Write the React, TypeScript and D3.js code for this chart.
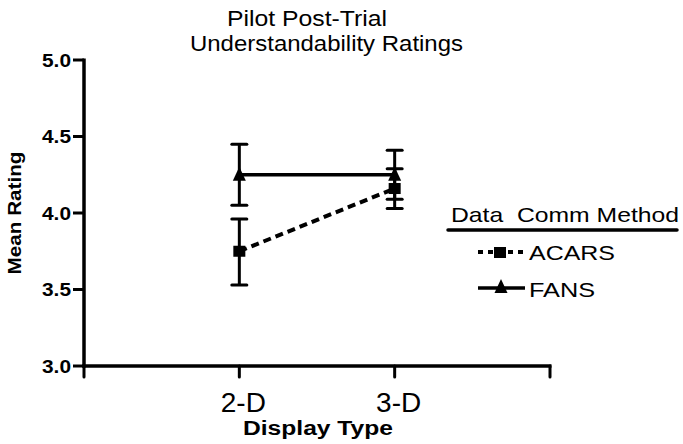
import React from "react";
import * as d3 from "d3";

const categories = ["2-D", "3-D"];
const acarsMean = [3.75, 4.16];
const acarsLow = [3.53, 4.03];
const acarsHigh = [3.96, 4.29];
const fansMean = [4.25, 4.25];
const fansLow = [4.05, 4.09];
const fansHigh = [4.45, 4.41];
const yTicks = [3.0, 3.5, 4.0, 4.5, 5.0];

const W = 683, H = 444;
const FONT = "Liberation Sans, Arial, sans-serif";

export default function App() {
  const x = d3.scaleLinear().domain([0, 3]).range([84, 550]);
  const y = d3.scaleLinear().domain([3, 5]).range([366, 60]);
  const line = d3.line<number>().x((_, i) => x(i + 1)).y((d) => y(d));

  const errBars = (means: number[], lo: number[], hi: number[], key: string) =>
    means.map((_, i) => {
      const cx = x(i + 1);
      return (
        <g key={key + i} stroke="#000" strokeWidth={3}>
          <line x1={cx} x2={cx} y1={y(lo[i])} y2={y(hi[i])} />
          <line x1={cx - 7.5} x2={cx + 7.5} y1={y(lo[i])} y2={y(lo[i])} strokeLinecap="round" />
          <line x1={cx - 7.5} x2={cx + 7.5} y1={y(hi[i])} y2={y(hi[i])} strokeLinecap="round" />
        </g>
      );
    });

  const tri = (cx: number, cy: number) =>
    `M${cx},${cy - 8}L${cx + 6.5},${cy + 6}L${cx - 6.5},${cy + 6}Z`;

  const T = (props: any) => (
    <text fontFamily={FONT} lengthAdjust="spacingAndGlyphs" {...props} />
  );

  return (
    <svg width={W} height={H} style={{ position: "absolute", left: 0, top: 0, background: "#fff" }}>
      <rect width={W} height={H} fill="#fff" />
      {/* title */}
      <T x={227} y={26} fontSize={22} textLength={160}>Pilot Post-Trial</T>
      <T x={190} y={51} fontSize={22} textLength={273}>Understandability Ratings</T>

      {/* y axis */}
      <line x1={84} x2={84} y1={y(5) - 1.5} y2={y(3) + 1.5} stroke="#000" strokeWidth={3.5} />
      {yTicks.map((t) => (
        <g key={t}>
          <line x1={73} x2={84} y1={y(t)} y2={y(t)} stroke="#000" strokeWidth={3} />
          <T x={42} y={y(t) + 6.5} fontWeight="bold" fontSize={18} textLength={29}>
            {t.toFixed(1)}
          </T>
        </g>
      ))}
      <T transform="translate(21,213) rotate(-90)" x={-61.5} y={0} fontWeight="bold" fontSize={18} textLength={123}>
        Mean Rating
      </T>

      {/* x axis */}
      <line x1={84 - 1.75} x2={550 + 1.5} y1={366} y2={366} stroke="#000" strokeWidth={3.5} />
      {[0, 1, 2, 3].map((t) => (
        <line key={t} x1={x(t)} x2={x(t)} y1={366} y2={377} stroke="#000" strokeWidth={3} strokeLinecap="round" />
      ))}
      {categories.map((c, i) => (
        <T key={c} x={x(i + 1) + 4} y={412} textAnchor="middle" fontSize={28}>{c}</T>
      ))}
      <T x={243} y={435} fontWeight="bold" fontSize={20} textLength={150}>Display Type</T>

      {/* error bars */}
      {errBars(fansMean, fansLow, fansHigh, "f")}
      {errBars(acarsMean, acarsLow, acarsHigh, "a")}

      {/* lines */}
      <path d={line(fansMean) || ""} fill="none" stroke="#000" strokeWidth={3.5} />
      <path d={line(acarsMean) || ""} fill="none" stroke="#000" strokeWidth={4} strokeDasharray="8 5" />

      {/* markers */}
      {fansMean.map((v, i) => (
        <path key={"ft" + i} d={tri(x(i + 1), y(v))} fill="#000" />
      ))}
      {acarsMean.map((v, i) => (
        <rect key={"as" + i} x={x(i + 1) - 6} y={y(v) - 5.5} width={12} height={11} fill="#000" />
      ))}

      {/* legend */}
      <T x={451} y={222} fontSize={21} textLength={228} style={{ whiteSpace: "pre" }}>{"Data  Comm Method"}</T>
      <line x1={448} x2={677} y1={230} y2={230} stroke="#000" strokeWidth={3.5} strokeLinecap="round" />
      <line x1={478} x2={525} y1={252} y2={252} stroke="#000" strokeWidth={4} strokeDasharray="5 5" />
      <rect x={494} y={247} width={12} height={11} fill="#000" />
      <T x={529} y={260} fontSize={21} textLength={86}>ACARS</T>
      <line x1={478} x2={525} y1={288} y2={288} stroke="#000" strokeWidth={3.5} />
      <path d={tri(501, 287)} fill="#000" />
      <T x={529} y={297} fontSize={21} textLength={66}>FANS</T>
    </svg>
  );
}
